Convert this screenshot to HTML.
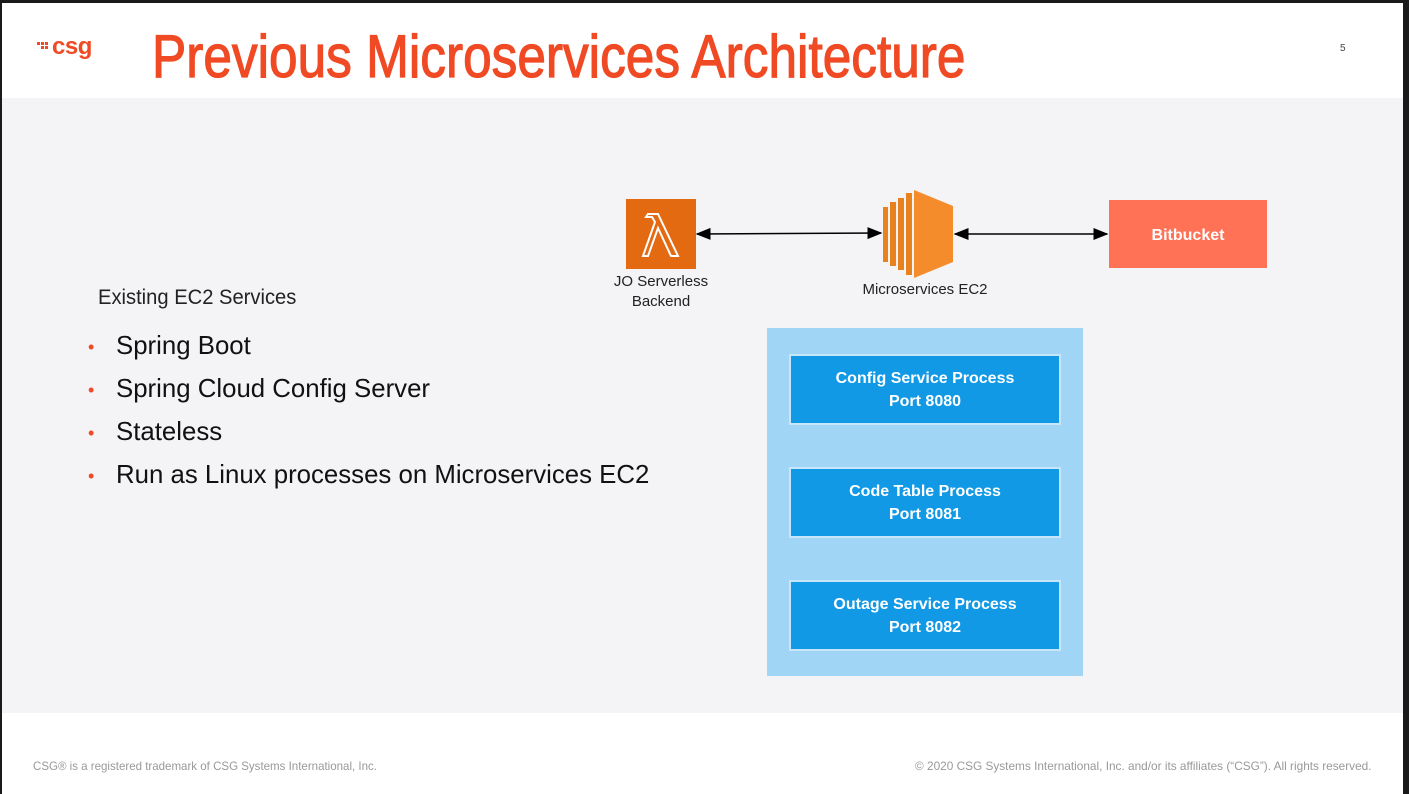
<!DOCTYPE html>
<html><head><meta charset="utf-8"><style>
body{margin:0;width:1409px;height:794px;position:relative;overflow:hidden;background:#fff;font-family:"Liberation Sans",sans-serif}
.a{position:absolute}
.box{position:absolute;background:#1199e6;color:#fff;border:2px solid #c8e6fa;box-sizing:border-box;text-align:center;font-size:16px;font-weight:bold;line-height:23px;padding-top:11px}
.b{position:absolute;left:116px;font-size:25.8px;color:#111}
.d{position:absolute;left:88px;color:#f04a24;font-size:18px}
</style></head><body>
<div class="a" style="left:0;top:0;width:1409px;height:3px;background:#1a1a1a"></div>
<div class="a" style="left:0;top:0;width:2px;height:794px;background:#1a1a1a"></div>
<div class="a" style="left:1403px;top:0;width:6px;height:794px;background:#1a1a1a"></div>
<div class="a" style="left:2px;top:98px;width:1401px;height:615px;background:#f4f3f6"></div>
<svg class="a" style="left:37px;top:42px" width="14" height="10"><g fill="#f04a24"><rect x="0" y="0" width="3" height="3"/><rect x="4" y="0" width="3" height="3"/><rect x="8" y="0" width="3" height="3"/><rect x="8" y="4" width="3" height="3"/><rect x="4" y="4" width="3" height="3"/></g></svg>
<div class="a" style="left:52px;top:33px;color:#f04a24;font-size:24px;font-weight:bold;letter-spacing:-0.5px">csg</div>
<div class="a" style="left:152px;top:22px;color:#f04a24;font-size:60px;white-space:nowrap;transform:scaleX(0.856);transform-origin:0 0;-webkit-text-stroke:1.2px #f04a24">Previous Microservices Architecture</div>
<div class="a" style="left:1340px;top:43px;font-size:10px;color:#444">5</div>
<div class="a" style="left:98px;top:286px;font-size:21px;color:#222;transform:scaleX(0.96);transform-origin:0 0;white-space:nowrap">Existing EC2 Services</div>
<div class="d" style="top:337px">•</div><div class="b" style="top:332px">Spring Boot</div>
<div class="d" style="top:380px">•</div><div class="b" style="top:375px">Spring Cloud Config Server</div>
<div class="d" style="top:423px">•</div><div class="b" style="top:418px">Stateless</div>
<div class="d" style="top:466px">•</div><div class="b" style="top:461px">Run as Linux processes on Microservices EC2</div>
<svg class="a" style="left:0;top:0" width="1409" height="794">
<defs><marker id="m" markerWidth="10" markerHeight="10" refX="9" refY="5" orient="auto-start-reverse"><path d="M0,1 L10,5 L0,9z" fill="#000"/></marker></defs>
<rect x="626" y="199" width="70" height="70" fill="#e46a12"/>
<path d="M648,214 h10 l20,42 h-7 l-13,-28 -10,28 h-5 l12,-34 -3,-5 h-6z" fill="none" stroke="#fff" stroke-width="2"/>
<line x1="697" y1="234" x2="881" y2="233" stroke="#000" stroke-width="1.5" marker-start="url(#m)" marker-end="url(#m)"/>
<line x1="955" y1="234" x2="1107" y2="234" stroke="#000" stroke-width="1.5" marker-start="url(#m)" marker-end="url(#m)"/>
<polygon points="883,207 888,207 888,262 883,262" fill="#e8821e"/>
<polygon points="890,202 896,202 896,266 890,266" fill="#e8821e"/>
<polygon points="898,198 904,198 904,270 898,270" fill="#e8821e"/>
<polygon points="906,193 912,193 912,275 906,275" fill="#e8821e"/>
<polygon points="914,190 953,206 953,262 914,278" fill="#f48c2c"/>
<rect x="1109" y="200" width="158" height="68" fill="#ff7256"/>
<text x="1188" y="240" fill="#fff" font-size="16" font-weight="bold" text-anchor="middle" font-family="Liberation Sans">Bitbucket</text>
<text x="661" y="286" font-size="15" text-anchor="middle" fill="#222" font-family="Liberation Sans">JO Serverless</text>
<text x="661" y="306" font-size="15" text-anchor="middle" fill="#222" font-family="Liberation Sans">Backend</text>
<text x="925" y="294" font-size="15" text-anchor="middle" fill="#222" font-family="Liberation Sans">Microservices EC2</text>
<rect x="767" y="328" width="316" height="348" fill="#a0d5f5"/>
</svg>
<div class="box" style="left:789px;top:354px;width:272px;height:71px">Config Service Process<br>Port 8080</div>
<div class="box" style="left:789px;top:467px;width:272px;height:71px">Code Table Process<br>Port 8081</div>
<div class="box" style="left:789px;top:580px;width:272px;height:71px">Outage Service Process<br>Port 8082</div>
<div class="a" style="left:33px;top:759px;font-size:12px;color:#999;transform:scaleX(0.96);transform-origin:0 0;white-space:nowrap">CSG® is a registered trademark of CSG Systems International, Inc.</div>
<div class="a" style="left:915px;top:759px;font-size:12px;color:#999;transform:scaleX(0.985);transform-origin:0 0;white-space:nowrap">© 2020 CSG Systems International, Inc. and/or its affiliates (“CSG”). All rights reserved.</div>
</body></html>
